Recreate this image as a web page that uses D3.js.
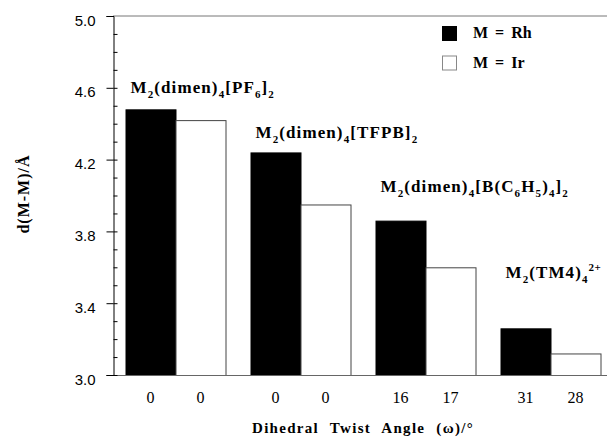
<!DOCTYPE html>
<html>
<head>
<meta charset="utf-8">
<script src="https://cdn.jsdelivr.net/npm/d3@7"></script>
<style>
  body { margin: 0; background: #fff; }
  svg { display: block; }
</style>
</head>
<body>
<div class="chart"></div>
<script>
// groups and their labels (_x = subscript char, ^{..} = superscript)
const groups = ["PF6", "TFPB", "BPh4", "TM4"];
const groupLabels = ["M_2(dimen)_4[PF_6]_2", "M_2(dimen)_4[TFPB]_2", "M_2(dimen)_4[B(C_6H_5)_4]_2", "M_2(TM4)_4^{2+}"];
const labelLevel = [4.57, 4.32, 4.02, 3.54];   // where each group label sits, in axis units
const series = ["M = Rh", "M = Ir"];
const rhValues = [4.48, 4.24, 3.86, 3.26];
const irValues = [4.42, 3.95, 3.60, 3.12];
const rhAngles = ["0", "0", "16", "31"];
const irAngles = ["0", "0", "17", "28"];
const yTicks = [3.0, 3.4, 3.8, 4.2, 4.6, 5.0];

document.addEventListener('DOMContentLoaded', function () {
    drawChart();
});

function drawChart() {
    let width = 607, height = 437;
    let margin = {top: 16, left: 113, bottom: 62};

    let svg = d3.select('.chart')
        .append("svg")
            .attr("width", width)
            .attr("height", height);

    const y = d3.scaleLinear()
        .domain([3.0, 5.0])
        .range([height - margin.bottom, margin.top]);

    const x0 = d3.scaleBand()
        .domain(groups)
        .range([margin.left, margin.left + 500])
        .paddingInner(0.2)
        .paddingOuter(0.1);

    const x1 = d3.scaleBand()
        .domain(series)
        .range([0, x0.bandwidth()]);

    let data = groups.map(function (g, i) {
        return {group: g, values: [
            {s: series[0], v: rhValues[i], angle: rhAngles[i]},
            {s: series[1], v: irValues[i], angle: irAngles[i]}
        ]};
    });

    // top frame line
    svg.append("line")
        .attr("x1", margin.left).attr("x2", width)
        .attr("y1", y(5.0)).attr("y2", y(5.0))
        .attr("stroke", "#777").attr("stroke-width", 1);

    // bars
    let g = svg.append("g").selectAll("g")
        .data(data)
        .join("g")
            .attr("transform", function (d) { return "translate(" + x0(d.group) + ",0)"; });

    g.selectAll("rect")
        .data(function (d) { return d.values; })
        .join("rect")
            .attr("x", function (d) { return x1(d.s) + 0.5; })
            .attr("y", function (d) { return y(d.v) + 0.5; })
            .attr("width", x1.bandwidth())
            .attr("height", function (d) { return y(3.0) - y(d.v); })
            .attr("fill", function (d) { return d.s === series[0] ? "#000" : "#fff"; })
            .attr("stroke", function (d) { return d.s === series[0] ? "#000" : "#444"; })
            .attr("stroke-width", 1);

    const serif = "'Liberation Serif', 'Times New Roman', serif";

    // angle labels under bars
    g.selectAll("text.angle")
        .data(function (d) { return d.values; })
        .join("text")
            .attr("class", "angle")
            .attr("x", function (d) { return x1(d.s) + x1.bandwidth() / 2; })
            .attr("y", y(3.0) + 28)
            .attr("text-anchor", "middle")
            .style("font-family", serif)
            .style("font-size", "16px")
            .text(function (d) { return d.angle; });

    // x baseline
    svg.append("line")
        .attr("x1", margin.left).attr("x2", width)
        .attr("y1", y(3.0) + 0.5).attr("y2", y(3.0) + 0.5)
        .attr("stroke", "#666").attr("stroke-width", 1);

    // y axis: major ticks with labels, minor ticks inside
    let yAxis = svg.append("g")
        .attr("transform", "translate(" + (margin.left + 0.5) + ",0)")
        .call(d3.axisLeft(y).tickValues(yTicks).tickFormat(d3.format(".1f")).tickSize(7).tickPadding(11));
    yAxis.select(".domain").attr("stroke", "#000");
    yAxis.selectAll("text")
        .attr("dy", "0.6em")
        .style("font-family", "'Liberation Sans', Arial, sans-serif")
        .style("font-size", "15px")
        .attr("fill", "#000");

    let minor = d3.range(30, 50).map(function (v) { return v / 10; });
    svg.append("g")
        .attr("transform", "translate(" + (margin.left + 0.5) + ",0)")
        .call(d3.axisRight(y).tickValues(minor).tickSize(4).tickFormat(""))
        .call(function (a) { a.select(".domain").remove(); });

    // group labels with sub/superscripts
    data.forEach(function (d, i) {
        let t = svg.append("text")
            .attr("x", x0(d.group) + 5)
            .attr("y", y(labelLevel[i]))
            .style("font-family", serif)
            .style("font-weight", "bold")
            .style("font-size", "17px")
            .style("letter-spacing", "1.1px");
        addRich(t, groupLabels[i]);
    });

    // legend
    let legend = svg.append("g").selectAll("g")
        .data(series)
        .join("g")
            .attr("transform", function (d, i) { return "translate(442," + (26 + i * 29.5) + ")"; });
    legend.append("rect")
        .attr("x", 0.5).attr("y", 0.5)
        .attr("width", 14).attr("height", 14)
        .attr("fill", function (d, i) { return i === 0 ? "#000" : "#fff"; })
        .attr("stroke", function (d, i) { return i === 0 ? "#000" : "#888"; });
    legend.append("text")
        .attr("x", 31).attr("y", 12)
        .style("font-family", serif)
        .style("font-weight", "bold")
        .style("font-size", "16px")
        .style("word-spacing", "3px")
        .text(function (d) { return d; });

    // axis titles
    svg.append("text")
        .attr("x", 363).attr("y", 433)
        .attr("text-anchor", "middle")
        .style("font-family", serif)
        .style("font-weight", "bold")
        .style("font-size", "15px")
        .style("letter-spacing", "1.3px")
        .style("word-spacing", "6px")
        .text("Dihedral Twist Angle (\u03c9)/\u00b0");

    svg.append("text")
        .attr("transform", "translate(29,194) rotate(-90)")
        .attr("text-anchor", "middle")
        .style("font-family", serif)
        .style("font-weight", "bold")
        .style("font-size", "16px")
        .style("letter-spacing", "1px")
        .text("d(M-M)/\u00c5");
}

// "_x" makes x a subscript, "^{..}" a superscript
function addRich(t, s) {
    let re = /_(.)|\^\{([^}]*)\}|([^_^]+)/g, m, shift = 0;
    while ((m = re.exec(s)) !== null) {
        let target = m[1] ? 5 : (m[2] ? -7 : 0);
        let span = t.append("tspan").attr("dy", target - shift);
        shift = target;
        if (m[1]) {
            span.style("font-size", "11px").text(m[1]);
        } else if (m[2]) {
            span.style("font-size", "11px").style("letter-spacing", "0.5px").text(m[2]);
        } else {
            span.text(m[3]);
        }
    }
}
</script>
</body>
</html>
